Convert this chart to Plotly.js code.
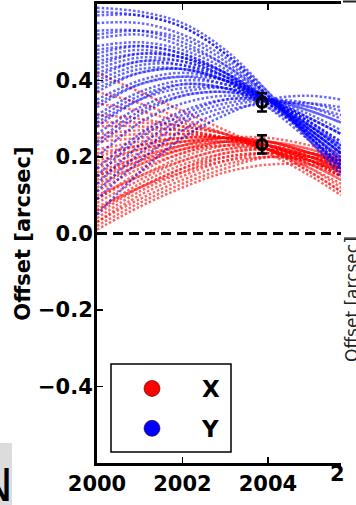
<!DOCTYPE html>
<html><head><meta charset="utf-8">
<script src="https://cdn.plot.ly/plotly-3.0.1.min.js"></script>
<style>html,body{margin:0;padding:0;background:#fff;overflow:hidden;} #chart{width:356px;height:505px;}</style>
</head><body><div id="chart"></div>
<script>
const epochs = [2000, 2001, 2002, 2003, 2004, 2005, 2005.71];

// X-offset model curves (red), arcsec
const xCurves = [
  [0.02, 0.08, 0.13, 0.17, 0.20, 0.20, 0.19],
  [0.03, 0.10, 0.15, 0.19, 0.21, 0.20, 0.18],
  [0.05, 0.12, 0.17, 0.21, 0.22, 0.21, 0.19],
  [0.06, 0.13, 0.18, 0.21, 0.22, 0.20, 0.17],
  [0.08, 0.14, 0.19, 0.22, 0.23, 0.21, 0.19],
  [0.09, 0.16, 0.21, 0.23, 0.23, 0.20, 0.17],
  [0.11, 0.17, 0.21, 0.24, 0.24, 0.21, 0.18],
  [0.12, 0.18, 0.22, 0.24, 0.23, 0.20, 0.16],
  [0.14, 0.19, 0.23, 0.25, 0.24, 0.21, 0.18],
  [0.15, 0.20, 0.23, 0.24, 0.23, 0.19, 0.15],
  [0.17, 0.21, 0.24, 0.25, 0.24, 0.21, 0.18],
  [0.18, 0.22, 0.24, 0.24, 0.22, 0.18, 0.14],
  [0.20, 0.23, 0.25, 0.25, 0.23, 0.20, 0.17],
  [0.22, 0.24, 0.25, 0.25, 0.23, 0.19, 0.15],
  [0.24, 0.25, 0.26, 0.25, 0.22, 0.18, 0.14],
  [0.26, 0.27, 0.27, 0.25, 0.23, 0.19, 0.16],
  [0.28, 0.28, 0.27, 0.25, 0.22, 0.17, 0.13],
  [0.31, 0.30, 0.28, 0.26, 0.22, 0.17, 0.12],
  [0.34, 0.32, 0.29, 0.26, 0.22, 0.16, 0.11],
  [0.37, 0.34, 0.30, 0.26, 0.21, 0.15, 0.10],
  [0.42, 0.37, 0.32, 0.27, 0.22, 0.16, 0.11],
  [0.04, 0.11, 0.16, 0.20, 0.21, 0.19, 0.16],
  [0.10, 0.15, 0.20, 0.23, 0.24, 0.22, 0.20],
  [0.16, 0.20, 0.23, 0.25, 0.25, 0.23, 0.21],
  [0.07, 0.12, 0.17, 0.20, 0.21, 0.21, 0.20],
  [0.01, 0.07, 0.12, 0.16, 0.18, 0.18, 0.17],
  [0.13, 0.18, 0.22, 0.24, 0.24, 0.22, 0.19],
  [0.19, 0.22, 0.24, 0.25, 0.24, 0.21, 0.19],
  [0.21, 0.23, 0.25, 0.25, 0.22, 0.18, 0.15],
  [0.25, 0.26, 0.26, 0.25, 0.23, 0.20, 0.17],
  [0.06, 0.12, 0.16, 0.19, 0.20, 0.19, 0.17],
  [0.09, 0.15, 0.19, 0.22, 0.22, 0.20, 0.18],
  [0.29, 0.29, 0.28, 0.26, 0.23, 0.19, 0.15],
  [0.03, 0.09, 0.14, 0.18, 0.20, 0.19, 0.17],
  [0.15, 0.19, 0.22, 0.23, 0.22, 0.19, 0.16]
];

// Y-offset model curves (blue), arcsec
const yCurves = [
  [0.59, 0.58, 0.55, 0.48, 0.37, 0.24, 0.15],
  [0.57, 0.57, 0.54, 0.47, 0.37, 0.25, 0.17],
  [0.55, 0.55, 0.52, 0.46, 0.36, 0.25, 0.17],
  [0.53, 0.53, 0.50, 0.44, 0.36, 0.26, 0.19],
  [0.51, 0.52, 0.49, 0.44, 0.35, 0.25, 0.18],
  [0.49, 0.50, 0.48, 0.43, 0.35, 0.26, 0.19],
  [0.47, 0.49, 0.47, 0.42, 0.35, 0.26, 0.20],
  [0.46, 0.48, 0.46, 0.42, 0.35, 0.27, 0.21],
  [0.44, 0.47, 0.46, 0.41, 0.34, 0.26, 0.20],
  [0.43, 0.46, 0.45, 0.41, 0.35, 0.27, 0.21],
  [0.41, 0.45, 0.44, 0.41, 0.35, 0.28, 0.22],
  [0.39, 0.43, 0.43, 0.40, 0.34, 0.27, 0.21],
  [0.37, 0.42, 0.43, 0.40, 0.35, 0.28, 0.23],
  [0.35, 0.40, 0.42, 0.40, 0.35, 0.28, 0.22],
  [0.33, 0.39, 0.41, 0.39, 0.35, 0.29, 0.24],
  [0.31, 0.37, 0.40, 0.39, 0.35, 0.29, 0.24],
  [0.28, 0.35, 0.39, 0.38, 0.35, 0.30, 0.26],
  [0.26, 0.33, 0.37, 0.38, 0.35, 0.30, 0.26],
  [0.23, 0.31, 0.36, 0.37, 0.35, 0.31, 0.27],
  [0.20, 0.29, 0.34, 0.36, 0.35, 0.32, 0.29],
  [0.17, 0.26, 0.32, 0.35, 0.35, 0.32, 0.29],
  [0.13, 0.23, 0.30, 0.34, 0.35, 0.33, 0.31],
  [0.09, 0.19, 0.27, 0.32, 0.34, 0.34, 0.33],
  [0.05, 0.16, 0.25, 0.31, 0.35, 0.36, 0.35],
  [0.40, 0.44, 0.44, 0.40, 0.33, 0.24, 0.17],
  [0.30, 0.36, 0.39, 0.38, 0.33, 0.26, 0.19],
  [0.58, 0.57, 0.54, 0.47, 0.36, 0.24, 0.16],
  [0.52, 0.53, 0.51, 0.45, 0.36, 0.25, 0.18],
  [0.48, 0.49, 0.47, 0.42, 0.34, 0.25, 0.18],
  [0.45, 0.47, 0.46, 0.42, 0.35, 0.27, 0.21],
  [0.42, 0.45, 0.45, 0.41, 0.35, 0.27, 0.21],
  [0.38, 0.42, 0.43, 0.40, 0.35, 0.28, 0.22],
  [0.34, 0.39, 0.41, 0.40, 0.35, 0.29, 0.23],
  [0.29, 0.35, 0.38, 0.38, 0.34, 0.28, 0.23],
  [0.24, 0.32, 0.36, 0.37, 0.35, 0.30, 0.26],
  [0.15, 0.25, 0.31, 0.35, 0.35, 0.33, 0.30],
  [0.11, 0.21, 0.29, 0.33, 0.35, 0.34, 0.32]
];

// Measured offsets with errors
const obsEpoch = [2003.86];
const obsX = [0.233];
const obsXerr = [0.024];
const obsY = [0.343];
const obsYerr = [0.024];

// Axis ticks
const xTickVals = [2000, 2002, 2004];
const xTickText = ['2000', '2002', '2004'];
const yTickVals = [-0.4, -0.2, 0.0, 0.2, 0.4];
const yTickText = ['\u22120.4', '\u22120.2', '0.0', '0.2', '0.4'];
const seriesNames = ['X', 'Y'];

const RED = 'rgba(255,0,0,0.6)';
const BLUE = 'rgba(0,0,255,0.6)';
const FONT = 'DejaVu Sans';

const traces = [];
xCurves.forEach(c => traces.push({
  type: 'scatter', mode: 'lines', x: epochs, y: c, showlegend: false, hoverinfo: 'skip',
  line: {color: RED, width: 2.5, dash: '2.5px,2px', shape: 'spline', smoothing: 1}
}));
yCurves.forEach(c => traces.push({
  type: 'scatter', mode: 'lines', x: epochs, y: c, showlegend: false, hoverinfo: 'skip',
  line: {color: BLUE, width: 2.5, dash: '2.5px,2px', shape: 'spline', smoothing: 1}
}));
[[obsX, obsXerr], [obsY, obsYerr]].forEach(([v, e]) => traces.push({
  type: 'scatter', mode: 'markers', x: obsEpoch, y: v, showlegend: false,
  marker: {symbol: 'circle-open', size: 10, color: 'black', line: {width: 3, color: 'black'}},
  error_y: {type: 'data', array: e, visible: true, color: 'black', thickness: 2.5, width: 5}
}));
// legend entries
[['red', 'a'], ['blue', 'b']].forEach(([col, g], i) => traces.push({
  type: 'scatter', mode: 'markers', x: [null], y: [null], name: seriesNames[i], legendgroup: g,
  marker: {size: 17, color: col, line: {width: 0.6, color: '#300'}}
}));

const W = 244, H = 459, L = 97, T = 4;
const px = x => (x - L) / W;
const py = y => (T + H - y) / H;

const layout = {
  width: 356, height: 505,
  margin: {l: L, r: 356 - L - W, t: T, b: 505 - T - H},
  paper_bgcolor: 'white', plot_bgcolor: 'white',
  showlegend: true,
  font: {family: FONT, color: 'black'},
  xaxis: {
    range: [2000, 2005.71], tickvals: xTickVals, ticktext: xTickText,
    ticks: 'inside', ticklen: 6, tickwidth: 1.5, tickcolor: 'black',
    showline: true, linewidth: 3, linecolor: 'black', mirror: 'ticks',
    showgrid: false, zeroline: false,
    tickfont: {family: FONT, size: 21, weight: 'bold', color: 'black'}
  },
  yaxis: {
    range: [-0.6, 0.6], tickvals: yTickVals, ticktext: yTickText,
    ticks: 'inside', ticklen: 6, tickwidth: 1.5, tickcolor: 'black',
    showline: true, linewidth: 3, linecolor: 'black',
    showgrid: false, zeroline: false, ticklabelstandoff: -3,
    tickfont: {family: FONT, size: 21, weight: 'bold', color: 'black'},
    title: {text: 'Offset [arcsec]', standoff: 2, font: {family: FONT, size: 21, weight: 'bold', color: 'black'}}
  },
  legend: {
    x: px(102), y: py(367), xanchor: 'left', yanchor: 'top',
    borderwidth: 0, bgcolor: 'rgba(0,0,0,0)',
    font: {family: FONT, size: 23, weight: 'bold', color: 'black'},
    traceorder: 'grouped', tracegroupgap: 7, itemwidth: 90
  },
  shapes: [
    {type: 'line', xref: 'paper', x0: 0, x1: 1, yref: 'y', y0: 0, y1: 0,
     line: {color: 'black', width: 3, dash: '10px,6px'}},
    {type: 'rect', xref: 'paper', yref: 'paper', x0: px(111), x1: px(231), y0: py(364), y1: py(452),
     fillcolor: 'white', line: {color: 'black', width: 1.5}, layer: 'above'},
    {type: 'rect', xref: 'paper', yref: 'paper', x0: px(0), x1: px(12), y0: py(443), y1: py(510),
     fillcolor: '#dcdcdc', line: {width: 0}, layer: 'below'},
    {type: 'line', xref: 'paper', yref: 'paper', x0: px(343), x1: px(358), y0: py(1.5), y1: py(1.5),
     line: {color: '#222', width: 2}},
    {type: 'line', xref: 'paper', yref: 'paper', x0: px(344), x1: px(358), y0: py(238), y1: py(238),
     line: {color: '#555', width: 1.5}}
  ],
  annotations: [
    {text: '2', xref: 'paper', yref: 'paper', x: px(328), y: py(474), xanchor: 'left', yanchor: 'middle',
     showarrow: false, font: {family: FONT, size: 21, weight: 'bold', color: 'black'}},
    {text: 'Offset [arcsec]', xref: 'paper', yref: 'paper', x: px(352), y: py(300), textangle: -90,
     xanchor: 'center', yanchor: 'middle', showarrow: false,
     font: {family: FONT, size: 17, color: '#222'}},
    {text: 'N', xref: 'paper', yref: 'paper', x: px(15), y: py(486), xanchor: 'right', yanchor: 'middle',
     showarrow: false, font: {family: FONT, size: 44, color: 'black'}}
  ]
};

Plotly.newPlot('chart', traces, layout, {staticPlot: true, displayModeBar: false});
</script>
</body></html>
